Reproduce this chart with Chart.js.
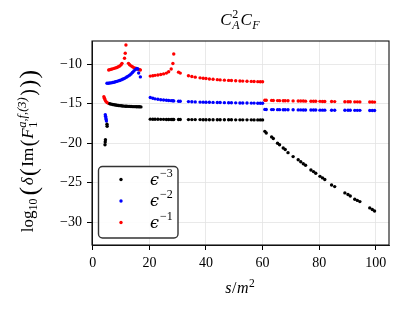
<!DOCTYPE html>
<html>
<head>
<meta charset="utf-8">
<script src="https://cdn.jsdelivr.net/npm/chart.js@4.4.0/dist/chart.umd.min.js"></script>
<style>
  html, body { margin: 0; padding: 0; background: #fff; }
  #wrap { width: 410px; height: 313px; }
</style>
</head>
<body>
<div id="wrap"><canvas id="chart" width="410" height="313"></canvas></div>
<script>
// tick positions
const xTicks = [0, 20, 40, 60, 80, 100];
const yTicks = [-30, -25, -20, -15, -10];

// s/m^2 near threshold, per series
const blackLowS = [4.3, 4.38, 4.45, 5.0, 5.05, 6, 6.5, 7, 7.5, 8, 8.5, 9, 9.5, 10, 10.5, 11, 11.5, 12, 12.5, 13, 13.5, 14, 14.5, 15, 15.5, 16, 16.5, 17];
const blackLowY = [-20.2, -19.85, -19.55, -17.6, -17.85, -15.0, -15.05, -15.1, -15.13, -15.16, -15.19, -15.22, -15.24, -15.26, -15.28, -15.3, -15.31, -15.32, -15.33, -15.34, -15.35, -15.36, -15.37, -15.37, -15.38, -15.38, -15.39, -15.4];

const blueLowS = [4.4, 4.5, 4.6, 4.7, 4.8, 5, 5.5, 6, 6.5, 7, 7.5, 8, 8.5, 9, 9.5, 10, 10.5, 11, 11.5, 12, 12.5, 13, 13.5, 14, 14.5, 15, 15.5, 15.9, 16.2, 16.8];
const blueLowY = [-16.4, -16.6, -16.8, -17.0, -17.2, -12.4, -12.4, -12.38, -12.35, -12.3, -12.27, -12.22, -12.17, -12.1, -12.05, -11.98, -11.9, -11.82, -11.72, -11.62, -11.5, -11.38, -11.22, -11.05, -10.85, -10.68, -10.52, -10.6, -11.1, -11.6];

const redLowS = [3.9, 4.1, 4.3, 4.6, 5.0, 5.5, 5.6, 6, 6.5, 7, 7.5, 8, 8.5, 9, 9.5, 10, 10.3, 11.2, 11.45, 11.7, 12.6, 13, 13.5, 14, 14.5, 15, 15.5, 16, 16.5, 16.8];
const redLowY = [-14.1, -14.3, -14.5, -14.7, -14.85, -14.95, -10.72, -10.68, -10.63, -10.58, -10.52, -10.46, -10.4, -10.32, -10.22, -10.05, -9.88, -9.24, -8.6, -7.56, -9.88, -10.05, -10.2, -10.32, -10.42, -10.5, -10.57, -10.63, -10.68, -10.72];

// s/m^2 from 20 to 60, shared by all three series
const sMid = [20.3, 21.2, 22, 23, 24, 25, 26, 26.8, 27.7, 28.3, 28.6, 30.3, 30.9, 33.8, 35, 36.2, 37.9, 39, 40, 41.2, 42.5, 44, 45, 46.5, 48, 49, 50.5, 52, 53, 54.5, 56, 57, 58.3, 59.2, 60];
const blackMid = [-16.95, -16.96, -16.97, -16.97, -16.98, -16.98, -16.99, -16.99, -17.0, -17.0, -17.0, -17.0, -17.0, -17.01, -17.01, -17.01, -17.01, -17.02, -17.02, -17.02, -17.02, -17.03, -17.03, -17.03, -17.03, -17.03, -17.04, -17.04, -17.04, -17.04, -17.04, -17.05, -17.05, -17.05, -17.05];
const blueMid = [-14.2, -14.3, -14.38, -14.44, -14.49, -14.53, -14.56, -14.59, -14.61, -14.63, -14.64, -14.68, -14.69, -14.73, -14.75, -14.77, -14.79, -14.8, -14.81, -14.82, -14.83, -14.85, -14.85, -14.86, -14.87, -14.88, -14.89, -14.9, -14.9, -14.91, -14.92, -14.92, -14.93, -14.93, -14.94];
const redMid = [-11.5, -11.45, -11.4, -11.35, -11.3, -11.22, -11.12, -10.95, -10.6, -9.9, -8.7, -11.0, -11.12, -11.45, -11.55, -11.63, -11.72, -11.77, -11.81, -11.86, -11.9, -11.95, -11.98, -12.01, -12.04, -12.06, -12.09, -12.11, -12.13, -12.15, -12.17, -12.18, -12.2, -12.21, -12.22];

// s/m^2 from 60 to 100, shared
const sHigh = [60.8, 61.3, 63.2, 63.8, 65.3, 66, 67.3, 68, 69, 70.8, 72.6, 73.5, 74.4, 75.2, 77.1, 78, 78.8, 80.3, 81.2, 82, 84.4, 85.5, 89.1, 90.2, 91, 92.6, 93.5, 94.4, 97.9, 98.8, 99.6];
const blackHigh = [-18.5, -18.7, -19.2, -19.4, -20.0, -20.2, -20.6, -20.8, -21.2, -21.7, -22.1, -22.35, -22.6, -22.8, -23.4, -23.6, -23.8, -24.2, -24.4, -24.6, -25.3, -25.5, -26.3, -26.5, -26.7, -27.1, -27.25, -27.4, -28.2, -28.4, -28.6];
const blueHigh = [-15.72, -15.73, -15.74, -15.74, -15.75, -15.75, -15.76, -15.76, -15.77, -15.77, -15.78, -15.78, -15.79, -15.79, -15.8, -15.8, -15.8, -15.81, -15.81, -15.81, -15.82, -15.82, -15.83, -15.83, -15.83, -15.84, -15.84, -15.84, -15.85, -15.85, -15.85];
const redHigh = [-14.55, -14.56, -14.58, -14.59, -14.6, -14.61, -14.62, -14.62, -14.63, -14.64, -14.65, -14.66, -14.66, -14.67, -14.68, -14.69, -14.69, -14.7, -14.71, -14.71, -14.72, -14.73, -14.74, -14.75, -14.75, -14.76, -14.76, -14.77, -14.78, -14.78, -14.79];

const seriesNames = ["\u03F5", "\u03F5", "\u03F5"];
const seriesPowers = ["\u22123", "\u22122", "\u22121"];
const seriesColors = ["#000000", "#0000ff", "#ff0000"];

function pts(xs, ys) {
    return xs.map((x, i) => ({ x: x, y: ys[i] }));
}

const datasets = [
    pts(blackLowS, blackLowY).concat(pts(sMid, blackMid), pts(sHigh, blackHigh)),
    pts(blueLowS, blueLowY).concat(pts(sMid, blueMid), pts(sHigh, blueHigh)),
    pts(redLowS, redLowY).concat(pts(sMid, redMid), pts(sHigh, redHigh))
].map((d, i) => ({
    label: seriesNames[i] + seriesPowers[i],
    data: d,
    backgroundColor: seriesColors[i],
    borderWidth: 0,
    pointRadius: 1.7,
    showLine: false
}));

const serif = "'Liberation Serif', 'DejaVu Serif', serif";

// draw a run of text pieces; {t, f, dy, stay}
function drawRun(ctx, x, y, parts, measureOnly) {
    let held = 0;
    parts.forEach(p => {
        ctx.font = p.f;
        const w = ctx.measureText(p.t).width;
        if (!measureOnly) ctx.fillText(p.t, x, y + (p.dy || 0));
        if (p.stay) { held = w; return; }
        x += Math.max(w, held) + (p.gap || 0);
        held = 0;
    });
    return x;
}

const decor = {
    id: "decor",
    afterDatasetsDraw(chart) {
        const ctx = chart.ctx;
        const a = chart.chartArea;
        ctx.save();
        // frame
        ctx.strokeStyle = "#111";
        ctx.lineWidth = 1.1;
        ctx.strokeRect(a.left, a.top, a.right - a.left, a.bottom - a.top);

        // legend
        const lx = 98.5, ly = 166.5, lw = 79.5, lh = 71.5, r = 4;
        ctx.beginPath();
        ctx.roundRect(lx, ly, lw, lh, r);
        ctx.fillStyle = "rgba(255,255,255,0.9)";
        ctx.fill();
        ctx.strokeStyle = "#333";
        ctx.lineWidth = 1.4;
        ctx.stroke();
        ctx.textBaseline = "alphabetic";
        for (let i = 0; i < 3; i++) {
            const cy = 179.5 + i * 21.5;
            ctx.fillStyle = seriesColors[i];
            ctx.beginPath();
            ctx.arc(121, cy, 1.7, 0, Math.PI * 2);
            ctx.fill();
            ctx.fillStyle = "#000";
            drawRun(ctx, 150, cy + 5, [
                { t: seriesNames[i], f: "italic 16px 'DejaVu Serif', serif", gap: 1 },
                { t: seriesPowers[i], f: "12px " + serif, dy: -8 }
            ]);
        }

        // title C_A^2 C_F
        ctx.fillStyle = "#000";
        const tParts = [
            { t: "C", f: "italic 17px " + serif, gap: 0.5 },
            { t: "2", f: "12px " + serif, dy: -7, stay: true },
            { t: "A", f: "italic 12px " + serif, dy: 4, gap: 1 },
            { t: "C", f: "italic 17px " + serif, gap: 0.5 },
            { t: "F", f: "italic 12px " + serif, dy: 4 }
        ];
        const tw = drawRun(ctx, 0, 0, tParts, true);
        drawRun(ctx, 240 - tw / 2, 25, tParts);

        // x label s/m^2
        const xParts = [
            { t: "s", f: "italic 16px " + serif, gap: 0.5 },
            { t: "/", f: "16px " + serif, gap: 0.5 },
            { t: "m", f: "italic 16px " + serif, gap: 0.5 },
            { t: "2", f: "11.5px " + serif, dy: -6 }
        ];
        const xw = drawRun(ctx, 0, 0, xParts, true);
        drawRun(ctx, 240 - xw / 2, 293, xParts);

        // y label
        const yParts = [
            { t: "log", f: "17px " + serif },
            { t: "10", f: "12px " + serif, dy: 4, gap: 3 },
            { t: "(", f: "26px " + serif, dy: 4, gap: 1.5 },
            { t: "\u03B4", f: "italic 17px " + serif, gap: 1.5 },
            { t: "(", f: "23px " + serif, dy: 3, gap: 1.5 },
            { t: "Im", f: "17px " + serif, gap: 1.5 },
            { t: "(", f: "20px " + serif, dy: 1.5, gap: 1 },
            { t: "F", f: "italic 17px " + serif, gap: 0.5 },
            { t: "1", f: "12px " + serif, dy: 4, stay: true },
            { t: "a,f,(3)", f: "italic 12.5px " + serif, dy: -7.5, gap: 1.5 },
            { t: ")", f: "20px " + serif, dy: 1.5, gap: 1.5 },
            { t: ")", f: "23px " + serif, dy: 3, gap: 1.5 },
            { t: ")", f: "26px " + serif, dy: 4 }
        ];
        const yw = drawRun(ctx, 0, 0, yParts, true);
        ctx.translate(33, 151);
        ctx.rotate(-Math.PI / 2);
        drawRun(ctx, -yw / 2, 0, yParts);
        ctx.restore();
    }
};

new Chart(document.getElementById("chart"), {
    type: "scatter",
    data: { datasets: datasets },
    options: {
        responsive: false,
        animation: false,
        devicePixelRatio: 1,
        layout: { padding: { top: 41, right: 21, left: 0, bottom: 0 } },
        plugins: { legend: { display: false }, tooltip: { enabled: false } },
        scales: {
            x: {
                type: "linear",
                min: -0.3,
                max: 104.7,
                afterBuildTicks: s => { s.ticks = xTicks.map(v => ({ value: v })); },
                afterFit: s => { s.height = 68; },
                grid: { color: "#e3e3e3", lineWidth: 0.8, tickLength: 5, tickColor: "#000", tickWidth: 1 },
                border: { display: true, color: "#111", width: 1 },
                ticks: {
                    color: "#000", padding: 5, maxRotation: 0, autoSkip: false,
                    font: { family: serif, size: 14 },
                    callback: v => String(v).replace("-", "\u2212")
                }
            },
            y: {
                type: "linear",
                min: -32.9,
                max: -7.05,
                afterBuildTicks: s => { s.ticks = yTicks.map(v => ({ value: v })); },
                afterFit: s => { s.width = 92; },
                grid: { color: "#e3e3e3", lineWidth: 0.8, tickLength: 5, tickColor: "#000", tickWidth: 1 },
                border: { display: true, color: "#111", width: 1 },
                ticks: {
                    color: "#000", padding: 5, autoSkip: false,
                    font: { family: serif, size: 14 },
                    callback: v => String(v).replace("-", "\u2212")
                }
            }
        }
    },
    plugins: [decor]
});
</script>
</body>
</html>
